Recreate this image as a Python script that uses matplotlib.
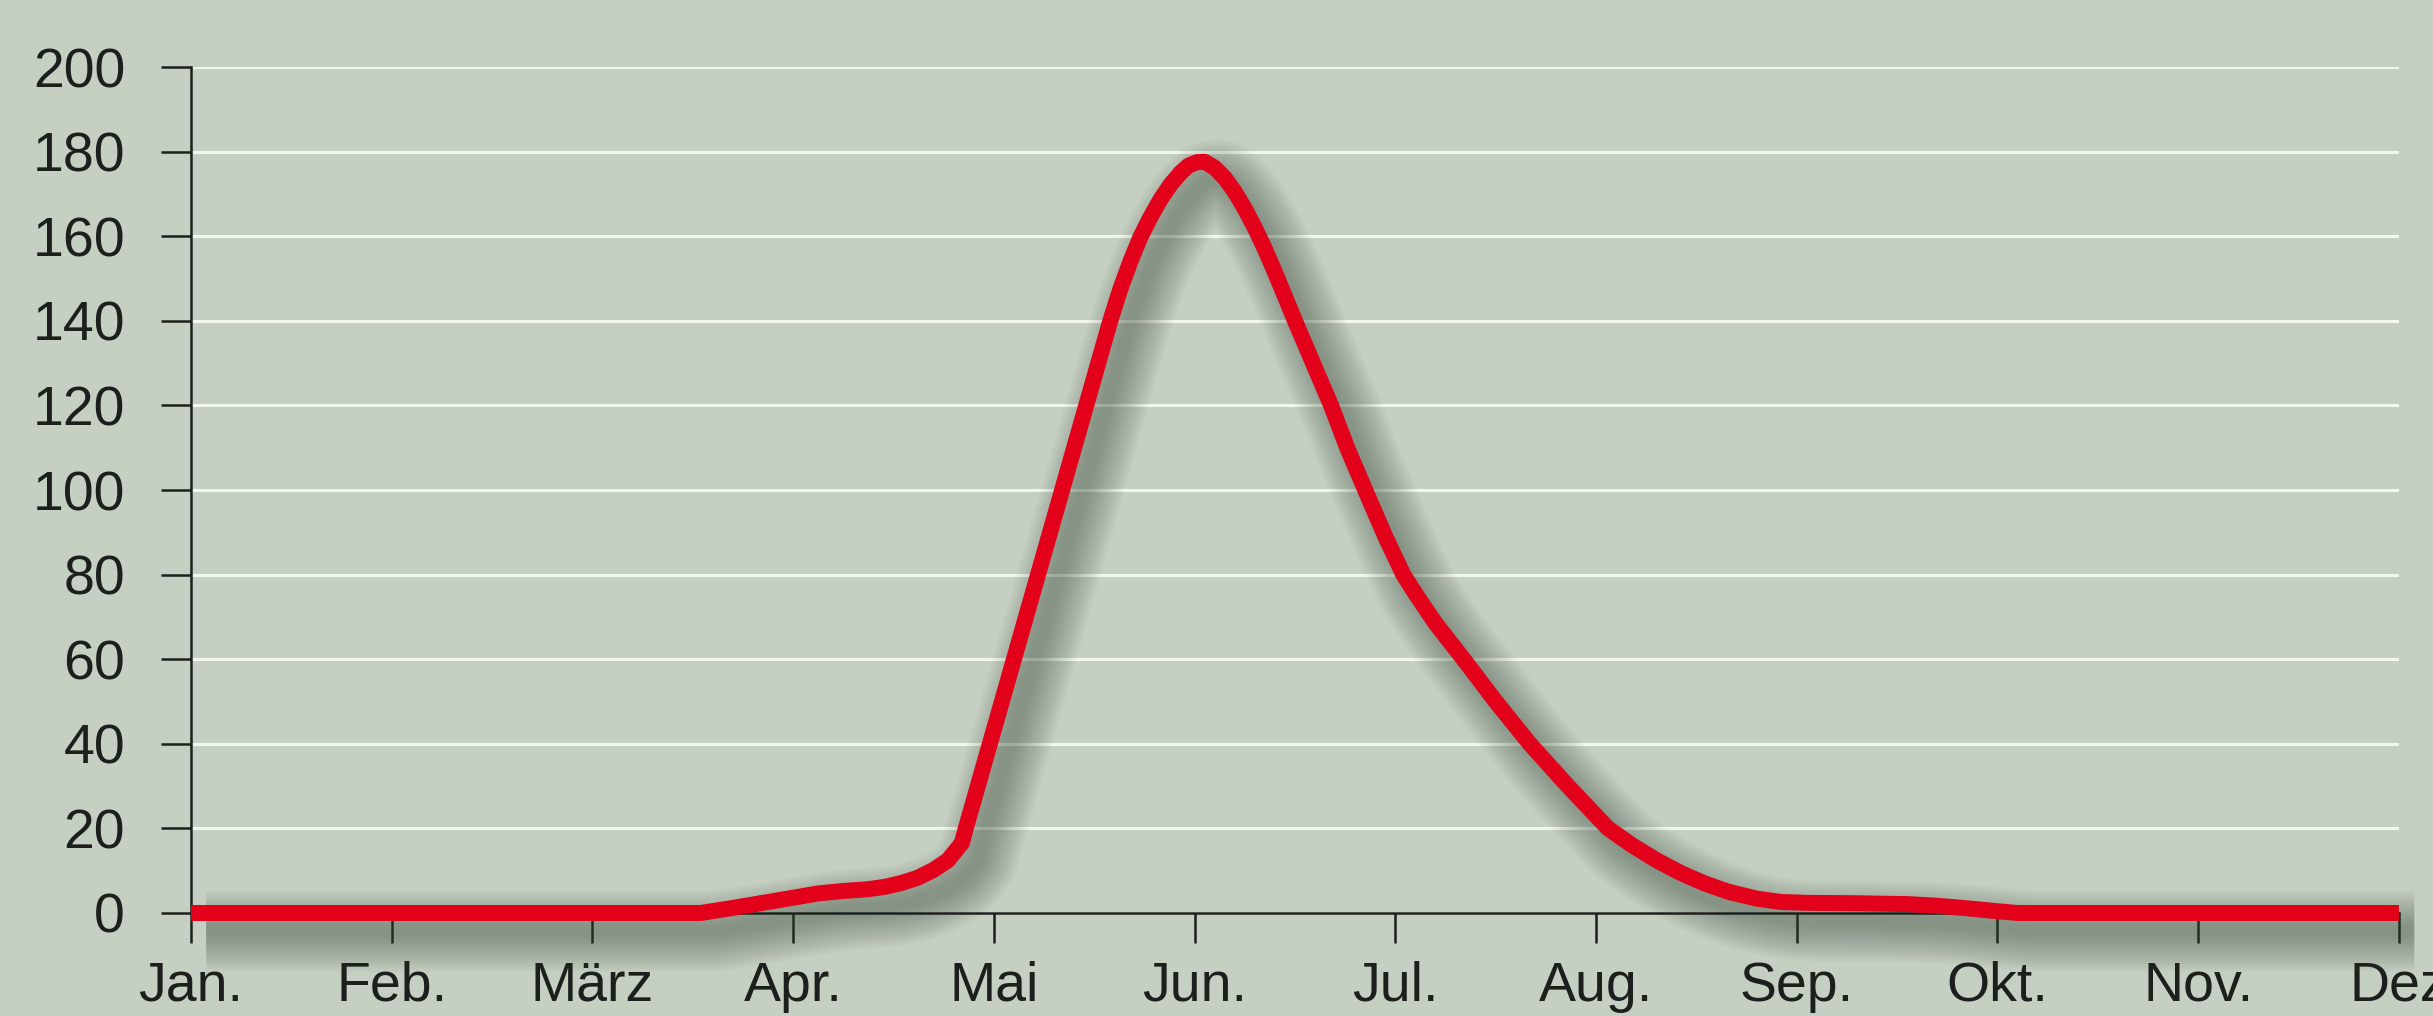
import matplotlib
matplotlib.use('Agg')
import matplotlib.pyplot as plt
from matplotlib import transforms

plt.rcParams['font.family'] = ['Liberation Sans', 'DejaVu Sans']

# Monate (0 = Jan. ... 11 = Dez.)
months = ['Jan.', 'Feb.', 'März', 'Apr.', 'Mai', 'Jun.', 'Jul.', 'Aug.',
          'Sep.', 'Okt.', 'Nov.', 'Dez']
y_ticks = [0, 20, 40, 60, 80, 100, 120, 140, 160, 180, 200]

# Kurve (x in Monaten ab Jan.)
curve_x = [0, 1, 2, 2.54, 2.7, 2.85, 3.0, 3.12, 3.25, 3.37, 3.46,
           3.54, 3.62, 3.7, 3.77, 3.84,
           3.86, 3.92, 3.98, 4.04, 4.1, 4.16, 4.22, 4.28, 4.34, 4.4,
           4.46, 4.52, 4.58, 4.63, 4.68, 4.73, 4.78, 4.83, 4.88, 4.93,
           4.97, 5.01, 5.05, 5.1, 5.15, 5.2, 5.25, 5.3, 5.35, 5.4,
           5.45, 5.5, 5.59, 5.68, 5.76, 5.85, 5.95, 6.04, 6.1, 6.2,
           6.34, 6.5, 6.67, 6.86, 7.06, 7.18, 7.3, 7.42, 7.54, 7.66,
           7.8, 7.92, 8.05, 8.3, 8.55, 8.7, 8.85, 9.0, 9.1, 10, 11]
curve_y = [0, 0, 0, 0, 1.2, 2.4, 3.6, 4.6, 5.2, 5.6, 6.2,
           7.1, 8.3, 10.2, 12.4, 16.5,
           20, 30, 40, 50, 60, 70, 80, 90, 100, 110,
           120, 130, 140, 147.5, 154, 159.8, 164.5, 168.7, 172.2, 175,
           176.7, 177.5, 177.6, 176.2, 173.8, 170.5, 166.5, 162, 157, 151.5,
           145.8, 140, 130, 120, 110, 100, 89, 80, 75.5, 68.5,
           60, 50, 40, 30, 20, 16, 12.5, 9.5, 7, 5,
           3.4, 2.6, 2.4, 2.3, 2.1, 1.7, 1.1, 0.4, 0, 0, 0]

bg = '#c5d0c3'
red = '#e2001a'
ink = '#1c1f1c'

fig = plt.figure(figsize=(24.33, 10.16), dpi=100, facecolor=bg)
ax = fig.add_axes([0.0785, 0.1014, 0.9075, 0.8326])
ax.set_facecolor(bg)
ax.set_axisbelow(True)

# weicher Schatten: mehrere versetzte, halbtransparente Linien
shadow_tr = transforms.offset_copy(ax.transData, fig=fig, x=11, y=-13, units='points')
for i in range(15):
    ax.plot(curve_x, curve_y, color='#3a4a3a', alpha=0.037, lw=8 + 3.6 * i,
            transform=shadow_tr, solid_capstyle='butt', solid_joinstyle='round',
            clip_on=False, zorder=1)

ax.plot(curve_x, curve_y, color=red, lw=11.5, solid_capstyle='butt',
        solid_joinstyle='round', clip_on=False, zorder=3)

ax.set_xlim(0, 11)
ax.set_ylim(0, 200)
ax.set_xticks(range(len(months)))
ax.set_xticklabels(months)
ax.set_yticks(y_ticks)

ax.yaxis.grid(True, color='#f3f8ee', lw=2.2)
ax.xaxis.grid(False)

for s in ['top', 'right']:
    ax.spines[s].set_visible(False)
for s in ['left', 'bottom']:
    ax.spines[s].set_color(ink)
    ax.spines[s].set_linewidth(1.8)

ax.tick_params(axis='both', colors=ink, labelcolor=ink, labelsize=40,
               length=21.5, width=1.8)
ax.tick_params(axis='y', pad=26)
ax.tick_params(axis='x', pad=13)

fig.savefig('out.png', dpi=100, facecolor=bg)
